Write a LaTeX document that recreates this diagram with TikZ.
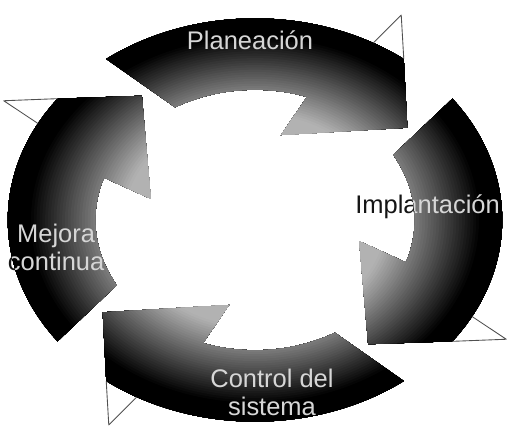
\documentclass[tikz,border=0pt]{standalone}
\usepackage{fontspec}
\setmainfont{Liberation Sans}
\usepackage{xcolor}
\usepackage{tikz}
\usetikzlibrary{positioning}
\definecolor{cycleInk}{HTML}{151515}
\definecolor{cycleGlow}{HTML}{D6D6D6}
\tikzset{
  cyclelabel/.style={align=center, inner sep=0pt,
    font=\fontsize{14.5}{16}\selectfont},
  barbline/.style={draw=cycleInk!75, line width=0.5pt, line join=round},
}
% one arrow of the cycle, in the unit frame (top arrow)
\newcommand{\cyclearrow}{(127:0.96) arc[start angle=127, end angle=53, radius=0.96]
  -- (36.6:0.737) -- (76:0.417) -- (71:0.62)
  arc[start angle=71, end angle=120, radius=0.62] -- cycle}
% the four labels, #1 colour, #2 name suffix
\newcommand{\cyclelabels}[2]{%
  \node[cyclelabel, text=#1] (plan#2) at (planpos) {Planeación};
  \node[cyclelabel, text=#1, anchor=west] (impl#2) at (implpos) {Implantación};
  \node[cyclelabel, text=#1] (ctrl#2) at (ctrlpos) {Control del\\sistema};
  \node[cyclelabel, text=#1] (mejo#2) at (mejopos) {Mejora\\continua};
}

\begin{document}
\begin{tikzpicture}
  \useasboundingbox (0,0) rectangle (10.2,8.66);
  \coordinate (planpos) at (5.0,7.85);
  \coordinate (implpos) at (7.1,4.52);
  \coordinate (ctrlpos) at (5.44,0.82);
  \coordinate (mejopos) at (1.12,3.72);
  % ---------------- labels on the white ground ----------------
  \cyclelabels{cycleInk}{}
  % ---------------- the four arrows ----------------
  \begin{scope}[shift={(5.1,4.26)}, xscale=5.15, yscale=4.2]
    \foreach \rot [count=\k] in {0,-90,-180,-270} {
      \begin{scope}[rotate=\rot]
        \begin{scope}
          \clip \cyclearrow;
          % dark outside, light toward the middle
          \foreach \i in {0,...,80} {
            \pgfmathsetmacro\rad{1.2-0.011*\i}
            \pgfmathsetmacro\ink{max(30,min(100,100-(0.88-\rad)*190))}
            \fill[black!\ink] (0,0) circle[radius=\rad];
          }
          \cyclelabels{cycleGlow}{-\k}
        \end{scope}
        % outer barb of the head, outline only
        \draw[barbline] (61.4:0.96) -- (59.8:1.129) -- (53:0.96);
      \end{scope}
    }
  \end{scope}
\end{tikzpicture}
\end{document}
